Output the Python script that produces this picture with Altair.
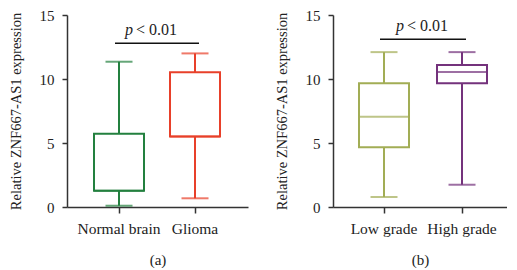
import altair as alt
import pandas as pd

# ---- data ----
cats_a = ["Normal brain", "Glioma"]
cats_b = ["Low grade", "High grade"]
colors_a = ["#23803f", "#e8402a"]
colors_b = ["#a2ad55", "#74327c"]

min_a = [0.10, 0.68]
q1_a = [1.26, 5.50]
med_a = [1.26, 5.50]
q3_a = [5.73, 10.53]
max_a = [11.35, 12.00]

min_b = [0.78, 1.74]
q1_b = [4.67, 9.67]
med_b = [7.05, 10.55]
q3_b = [9.67, 11.10]
max_b = [12.10, 12.10]

sig_y = [12.8, 13.1]
p_italic = "p"
p_rest = "< 0.01"
captions = ["(a)", "(b)"]
y_title = "Relative ZNF667-AS1 expression"
y_ticks = [0, 5, 10, 15]

FONT = "Liberation Serif"
TXT = "#222222"


def panel(cats, colors, mins, q1, med, q3, maxs, sig, caption, width, po, al, pdx):
    df = pd.DataFrame({"cat": cats, "lo": mins, "q1": q1, "med": med, "q3": q3, "hi": maxs})
    x = alt.X(
        "cat:N",
        sort=cats,
        scale=alt.Scale(domain=cats, paddingInner=0, paddingOuter=po, align=al),
        axis=alt.Axis(title=caption, labelAngle=0, tickSize=6, labelPadding=8,
                      titlePadding=16, titleFontSize=15, labelFontSize=15.5),
    )
    yax = alt.Axis(values=y_ticks, title=y_title, tickSize=5, labelPadding=8,
                   titlePadding=16, titleFontSize=14.5, labelFontSize=15, format="d")
    ysc = alt.Scale(domain=[0, 15], nice=False)
    col = alt.Color("cat:N", scale=alt.Scale(domain=cats, range=colors), legend=None)
    stk = alt.Stroke("cat:N", scale=alt.Scale(domain=cats, range=colors), legend=None)
    base = alt.Chart(df)

    w_lo = base.mark_rule(strokeWidth=2).encode(
        x=x, y=alt.Y("lo:Q", scale=ysc, axis=yax), y2="q1:Q", color=col)
    w_hi = base.mark_rule(strokeWidth=2).encode(x=x, y="q3:Q", y2="hi:Q", color=col)
    box = base.mark_bar(size=50, fill="white", strokeWidth=2).encode(
        x=x, y="q1:Q", y2="q3:Q", stroke=stk)
    median = base.mark_tick(size=50, thickness=2).encode(x=x, y="med:Q", color=col)
    cap_lo = base.mark_tick(size=27, thickness=2).encode(x=x, y="lo:Q", color=col)
    cap_hi = base.mark_tick(size=27, thickness=2).encode(x=x, y="hi:Q", color=col)

    sig_line = alt.Chart(pd.DataFrame({"s": [sig]})).mark_rule(
        strokeWidth=1.5, color="#111111", xOffset=-4, x2Offset=4
    ).encode(x=alt.datum(cats[0]), x2=alt.datum(cats[1]), y="s:Q")
    t1 = alt.Chart(pd.DataFrame({"s": [sig], "t": [p_italic]})).mark_text(
        font=FONT, fontSize=16, fontStyle="italic", align="right", baseline="alphabetic",
        dx=pdx, dy=-8, color=TXT
    ).encode(x=alt.datum(cats[0]), y="s:Q", text="t:N")
    t2 = alt.Chart(pd.DataFrame({"s": [sig], "t": [p_rest]})).mark_text(
        font=FONT, fontSize=16, align="left", baseline="alphabetic",
        dx=pdx + 3, dy=-8, color=TXT
    ).encode(x=alt.datum(cats[0]), y="s:Q", text="t:N")

    return alt.layer(w_lo, w_hi, box, median, cap_lo, cap_hi, sig_line, t1, t2).resolve_scale(
        color="shared", stroke="shared"
    ).properties(width=width, height=192)


pa = panel(cats_a, colors_a, min_a, q1_a, med_a, q3_a, max_a, sig_y[0], captions[0],
           181, 0.1908, 0.483, 14)
pb = panel(cats_b, colors_b, min_b, q1_b, med_b, q3_b, max_b, sig_y[1], captions[1],
           174, 0.1154, 0.667, 20)

chart = alt.hconcat(pa, pb, spacing=26).resolve_scale(
    x="independent", y="independent", color="independent", stroke="independent"
).properties(padding=0).configure_view(
    stroke=None
).configure_axis(
    grid=False,
    domainColor="#333333",
    domainWidth=1.5,
    tickColor="#333333",
    tickWidth=1.5,
    labelFont=FONT,
    titleFont=FONT,
    labelColor=TXT,
    titleColor=TXT,
    titleFontWeight="normal",
)

chart.save("out.html", embed_options={"renderer": "svg", "actions": False})
